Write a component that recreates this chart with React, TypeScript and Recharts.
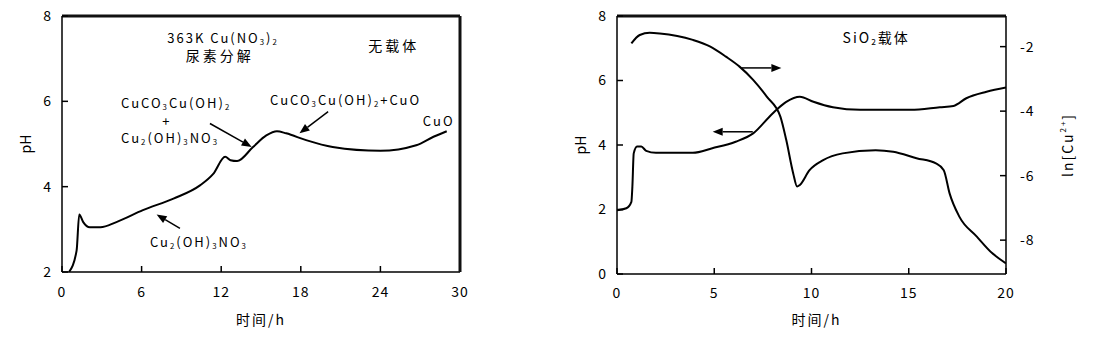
import {
  ComposedChart,
  Line,
  XAxis,
  YAxis,
  ReferenceLine,
  ReferenceDot,
  Label,
} from 'recharts';

const FONT = "'Noto Sans CJK SC', 'DejaVu Sans', sans-serif";

// left panel: Cu(NO3)2 urea decomposition, no support
const bareTime = [0.53, 1.1, 1.3, 1.6, 2.1, 2.9, 4.1, 6.1, 8.4, 10.4, 11.4, 12.3, 12.7, 13.2, 14.4, 15.4, 16.2, 16.9, 18.4, 20.4, 24.0, 26.7, 28.0, 29.0];
const barePH = [2.0, 2.5, 3.35, 3.17, 3.05, 3.05, 3.17, 3.45, 3.72, 4.03, 4.3, 4.7, 4.62, 4.6, 4.93, 5.2, 5.3, 5.25, 5.09, 4.93, 4.84, 4.97, 5.17, 5.3];
const bareXTicks = [0, 6, 12, 18, 24, 30];
const bareYTicks = [2, 4, 6, 8];

// right panel: SiO2 support, pH and ln[Cu2+]
const silicaPHTime = [0, 0.48, 0.74, 0.79, 0.86, 1.03, 1.25, 1.5, 2.0, 3.9, 4.9, 6.1, 7.0, 8.0, 8.7, 9.4, 10.1, 11.1, 12.5, 15.1, 16.6, 17.3, 17.96, 19.0, 20];
const silicaPH = [1.98, 2.04, 2.24, 2.7, 3.74, 3.95, 3.95, 3.82, 3.76, 3.76, 3.9, 4.1, 4.36, 4.98, 5.34, 5.5, 5.34, 5.17, 5.09, 5.09, 5.17, 5.21, 5.45, 5.65, 5.78];
const silicaCuTime = [0.74, 1.17, 1.68, 2.2, 3.9, 4.8, 5.6, 6.3, 7.0, 7.7, 8.4, 8.7, 9.06, 9.26, 9.4, 9.9, 10.6, 11.6, 13.3, 14.2, 15.4, 16.4, 16.8, 17.1, 17.6, 18.5, 19.3, 20];
const silicaLnCu = [-1.9, -1.64, -1.57, -1.59, -1.79, -2.0, -2.31, -2.62, -3.03, -3.55, -4.17, -4.89, -5.93, -6.34, -6.29, -5.83, -5.52, -5.31, -5.21, -5.26, -5.46, -5.62, -5.83, -6.55, -7.27, -7.89, -8.41, -8.72];
const silicaXTicks = [0, 5, 10, 15, 20];
const silicaPHTicks = [0, 2, 4, 6, 8];
const silicaLnTicks = [-8, -6, -4, -2];

const zip = (ts: number[], vs: number[]) => ts.map((t, i) => ({ t, v: vs[i] }));

type Part = [string, 'n' | 'sub' | 'sup'];

const off = (k: string) => (k === 'sub' ? 4 : k === 'sup' ? -5 : 0);

function Formula({ x, y, parts, size = 13, anchor = 'start', spacing = 2 }: { x: number; y: number; parts: Part[]; size?: number; anchor?: string; spacing?: number }) {
  return (
    <text x={x} y={y} fontSize={size} textAnchor={anchor as any} fill="#000" letterSpacing={spacing} dominantBaseline="central" fontFamily={FONT}>
      {parts.map(([s, k], i) => {
        const prev = i > 0 ? parts[i - 1][1] : 'n';
        return (
          <tspan key={i} dy={off(k) - off(prev)} fontSize={k === 'n' ? size : size * 0.6}>
            {s}
          </tspan>
        );
      })}
    </text>
  );
}

const note = (parts: Part[], anchor = 'start', size = 13, spacing = 2) => (p: any) => (
  <Formula x={p.cx} y={p.cy} parts={parts} anchor={anchor} size={size} spacing={spacing} />
);

function arrowShape(props: any) {
  const { x1, y1, x2, y2 } = props;
  const a = Math.atan2(y2 - y1, x2 - x1);
  const len = 10;
  const w = 4;
  const bx = x2 - len * Math.cos(a);
  const by = y2 - len * Math.sin(a);
  const p1 = `${bx + w * Math.sin(a)},${by - w * Math.cos(a)}`;
  const p2 = `${bx - w * Math.sin(a)},${by + w * Math.cos(a)}`;
  return (
    <g>
      <line x1={x1} y1={y1} x2={bx} y2={by} stroke="#000" strokeWidth={1.5} />
      <polygon points={`${x2},${y2} ${p1} ${p2}`} fill="#000" />
    </g>
  );
}

const tickStyle = { fontSize: 14, fill: '#000', fontFamily: FONT, letterSpacing: 1 };

const yTitle = (fromLeft: number) => (p: any) => {
  const vb = p.viewBox;
  const cx = vb.x + fromLeft;
  const cy = vb.y + vb.height / 2;
  return (
    <text x={cx} y={cy} transform={`rotate(-90 ${cx} ${cy})`} textAnchor="middle" dominantBaseline="central" fontSize={14} fontFamily={FONT} fill="#000">
      pH
    </text>
  );
};

const xTitle = (down: number, dx = 0) => (p: any) => {
  const vb = p.viewBox;
  return (
    <text x={vb.x + vb.width / 2 + dx} y={vb.y + down} textAnchor="middle" dominantBaseline="central" fontSize={14} letterSpacing={2} fontFamily={FONT} fill="#000">
      时间/h
    </text>
  );
};

const lnTitle = (p: any) => {
  const vb = p.viewBox;
  const cx = vb.x + vb.width - 9;
  const cy = vb.y + vb.height / 2;
  return (
    <text x={cx} y={cy} transform={`rotate(-90 ${cx} ${cy})`} textAnchor="middle" dominantBaseline="central" fontSize={14} letterSpacing={2} fontFamily={FONT} fill="#000">
      ln[Cu<tspan dy={-5} fontSize={8}>2+</tspan>
      <tspan dy={5}>]</tspan>
    </text>
  );
};

function BarePanel() {
  return (
    <ComposedChart width={480} height={342} margin={{ top: 15, right: 19, bottom: 12, left: 12 }}>
      <XAxis
        dataKey="t"
        type="number"
        domain={[0, 30]}
        ticks={bareXTicks}
        allowDataOverflow
        height={58}
        tickSize={-6}
        tickMargin={21}
        tick={tickStyle}
        stroke="#000"
        strokeWidth={1.5}
      >
        <Label content={xTitle(47)} />
      </XAxis>
      {/* top and right edges of the box */}
      <XAxis xAxisId="frame" orientation="top" type="number" domain={[0, 30]} height={1} tick={false} tickLine={false} stroke="#111" strokeWidth={3} />
      <YAxis
        type="number"
        domain={[2, 8]}
        ticks={bareYTicks}
        allowDataOverflow
        width={50}
        tickSize={-6}
        tickMargin={16}
        tick={tickStyle}
        stroke="#000"
        strokeWidth={1.5}
      >
        <Label content={yTitle(13)} />
      </YAxis>
      <YAxis yAxisId="frame" orientation="right" type="number" domain={[2, 8]} width={1} tick={false} tickLine={false} stroke="#111" strokeWidth={3} />
      <Line data={zip(bareTime, barePH)} dataKey="v" type="monotone" stroke="#000" strokeWidth={2} dot={false} isAnimationActive={false} />
      <ReferenceLine segment={[{ x: 11.15, y: 5.48 }, { x: 14.3, y: 4.93 }]} shape={arrowShape} />
      <ReferenceLine segment={[{ x: 20.06, y: 5.76 }, { x: 17.9, y: 5.25 }]} shape={arrowShape} />
      <ReferenceLine segment={[{ x: 8.89, y: 3.02 }, { x: 7.13, y: 3.35 }]} shape={arrowShape} />
      <ReferenceDot x={12.14} y={7.51} r={0} shape={note([['363K Cu(NO', 'n'], ['3', 'sub'], [')', 'n'], ['2', 'sub']], 'middle')} />
      <ReferenceDot x={11.9} y={7.09} r={0} shape={note([['尿素分解', 'n']], 'middle', 14, 3)} />
      <ReferenceDot x={25.0} y={7.32} r={0} shape={note([['无载体', 'n']], 'middle', 14, 3)} />
      <ReferenceDot x={4.45} y={5.98} r={0} shape={note([['CuCO', 'n'], ['3', 'sub'], ['Cu(OH)', 'n'], ['2', 'sub']])} />
      <ReferenceDot x={7.9} y={5.56} r={0} shape={note([['+', 'n']], 'middle')} />
      <ReferenceDot x={4.45} y={5.16} r={0} shape={note([['Cu', 'n'], ['2', 'sub'], ['(OH)', 'n'], ['3', 'sub'], ['NO', 'n'], ['3', 'sub']])} />
      <ReferenceDot x={15.68} y={6.05} r={0} shape={note([['CuCO', 'n'], ['3', 'sub'], ['Cu(OH)', 'n'], ['2', 'sub'], ['+CuO', 'n']])} />
      <ReferenceDot x={27.2} y={5.56} r={0} shape={note([['CuO', 'n']])} />
      <ReferenceDot x={6.63} y={2.73} r={0} shape={note([['Cu', 'n'], ['2', 'sub'], ['(OH)', 'n'], ['3', 'sub'], ['NO', 'n'], ['3', 'sub']])} />
    </ComposedChart>
  );
}

function SilicaPanel() {
  return (
    <ComposedChart width={533} height={342} margin={{ top: 15, right: 17, bottom: 12, left: 7 }}>
      <XAxis
        dataKey="t"
        type="number"
        domain={[0, 20]}
        ticks={silicaXTicks}
        allowDataOverflow
        height={56}
        tickSize={-6}
        tickMargin={20}
        tick={tickStyle}
        stroke="#000"
        strokeWidth={1.5}
      >
        <Label content={xTitle(45, 5)} />
      </XAxis>
      <XAxis xAxisId="frame" orientation="top" type="number" domain={[0, 20]} height={1} tick={false} tickLine={false} stroke="#111" strokeWidth={3} />
      <YAxis
        yAxisId="ph"
        type="number"
        domain={[0, 8]}
        ticks={silicaPHTicks}
        allowDataOverflow
        width={50}
        tickSize={-6}
        tickMargin={16}
        tick={tickStyle}
        stroke="#000"
        strokeWidth={1.5}
      >
        <Label content={yTitle(13)} />
      </YAxis>
      <YAxis
        yAxisId="ln"
        orientation="right"
        type="number"
        domain={[-9.05, -1.05]}
        ticks={silicaLnTicks}
        allowDataOverflow
        width={70}
        tickSize={-6}
        tickMargin={20}
        tick={tickStyle}
        stroke="#000"
        strokeWidth={1.5}
      >
        <Label content={lnTitle} />
      </YAxis>
      <Line yAxisId="ph" data={zip(silicaPHTime, silicaPH)} dataKey="v" type="monotone" stroke="#000" strokeWidth={2} dot={false} isAnimationActive={false} />
      <Line yAxisId="ln" data={zip(silicaCuTime, silicaLnCu)} dataKey="v" type="monotone" stroke="#000" strokeWidth={2} dot={false} isAnimationActive={false} />
      <ReferenceLine yAxisId="ph" segment={[{ x: 6.4, y: 6.39 }, { x: 8.45, y: 6.39 }]} shape={arrowShape} />
      <ReferenceLine yAxisId="ph" segment={[{ x: 6.98, y: 4.41 }, { x: 4.92, y: 4.41 }]} shape={arrowShape} />
      <ReferenceDot yAxisId="ph" x={11.6} y={7.35} r={0} shape={note([['SiO', 'n'], ['2', 'sub'], ['载体', 'n']], 'start', 14, 2)} />
    </ComposedChart>
  );
}

export default function App() {
  return (
    <div style={{ position: 'absolute', left: 0, top: 0, width: 1093, height: 342, background: '#fff', fontFamily: FONT }}>
      <div style={{ position: 'absolute', left: 0, top: 0 }}>
        <BarePanel />
      </div>
      <div style={{ position: 'absolute', left: 560, top: 0 }}>
        <SilicaPanel />
      </div>
    </div>
  );
}
